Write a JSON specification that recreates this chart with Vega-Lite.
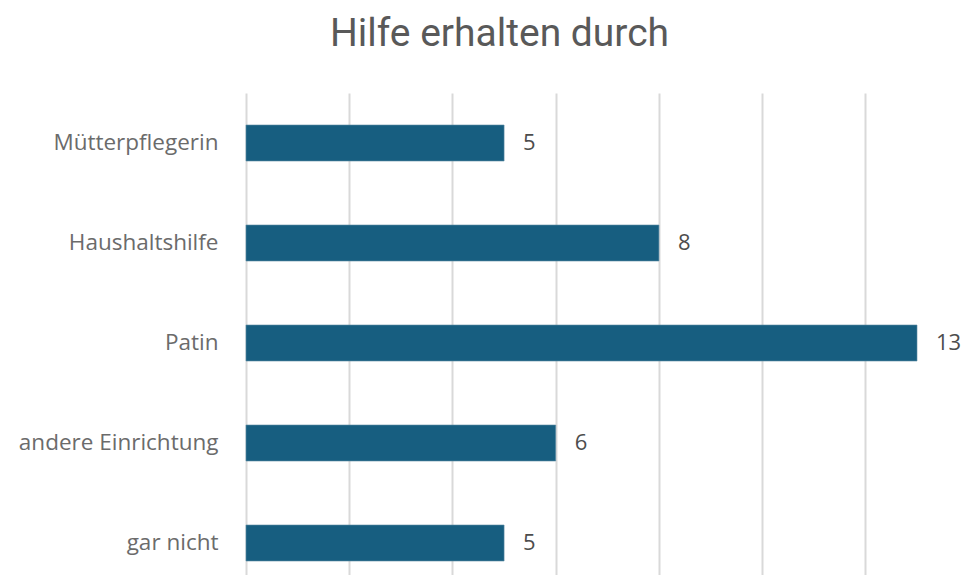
{
  "$schema": "https://vega.github.io/schema/vega-lite/v6.json",
  "autosize": "none",
  "padding": {"left": 246, "top": 93, "right": 48, "bottom": 0},
  "width": 671,
  "height": 500,
  "background": "white",
  "title": {
    "text": "Hilfe erhalten durch",
    "font": "Roboto, sans-serif",
    "fontSize": 39,
    "fontWeight": "normal",
    "color": "#595959",
    "anchor": "middle",
    "frame": "group",
    "dx": -82,
    "baseline": "alphabetic",
    "offset": 8
  },
  "data": {
    "values": [
      {"kategorie": "Mütterpflegerin", "anzahl": 5},
      {"kategorie": "Haushaltshilfe", "anzahl": 8},
      {"kategorie": "Patin", "anzahl": 13},
      {"kategorie": "andere Einrichtung", "anzahl": 6},
      {"kategorie": "gar nicht", "anzahl": 5}
    ]
  },
  "config": {"view": {"stroke": null}},
  "encoding": {
    "y": {
      "field": "kategorie",
      "type": "nominal",
      "sort": null,
      "scale": {"paddingInner": 0.64, "paddingOuter": 0.32},
      "axis": {
        "title": null,
        "ticks": false,
        "domain": false,
        "grid": false,
        "labelPadding": 28,
        "labelLimit": 400,
        "labelFont": "Open Sans",
        "labelFontSize": 22.5,
        "labelColor": "#6b6b6b"
      }
    },
    "x": {
      "field": "anzahl",
      "type": "quantitative",
      "scale": {"domain": [0, 13], "nice": false},
      "axis": {
        "title": null,
        "values": [0, 2, 4, 6, 8, 10, 12],
        "labels": false,
        "ticks": false,
        "domain": false,
        "grid": true,
        "gridColor": "#d9d9d9",
        "gridWidth": 2
      }
    }
  },
  "layer": [
    {"mark": {"type": "bar", "color": "#175e80", "stroke": "#5a8aa3", "strokeWidth": 0.6}},
    {
      "mark": {"type": "text", "align": "left", "dx": 19, "font": "Open Sans", "fontSize": 22, "color": "#4d4d4d", "baseline": "middle"},
      "encoding": {"text": {"field": "anzahl", "type": "quantitative"}}
    }
  ]
}
